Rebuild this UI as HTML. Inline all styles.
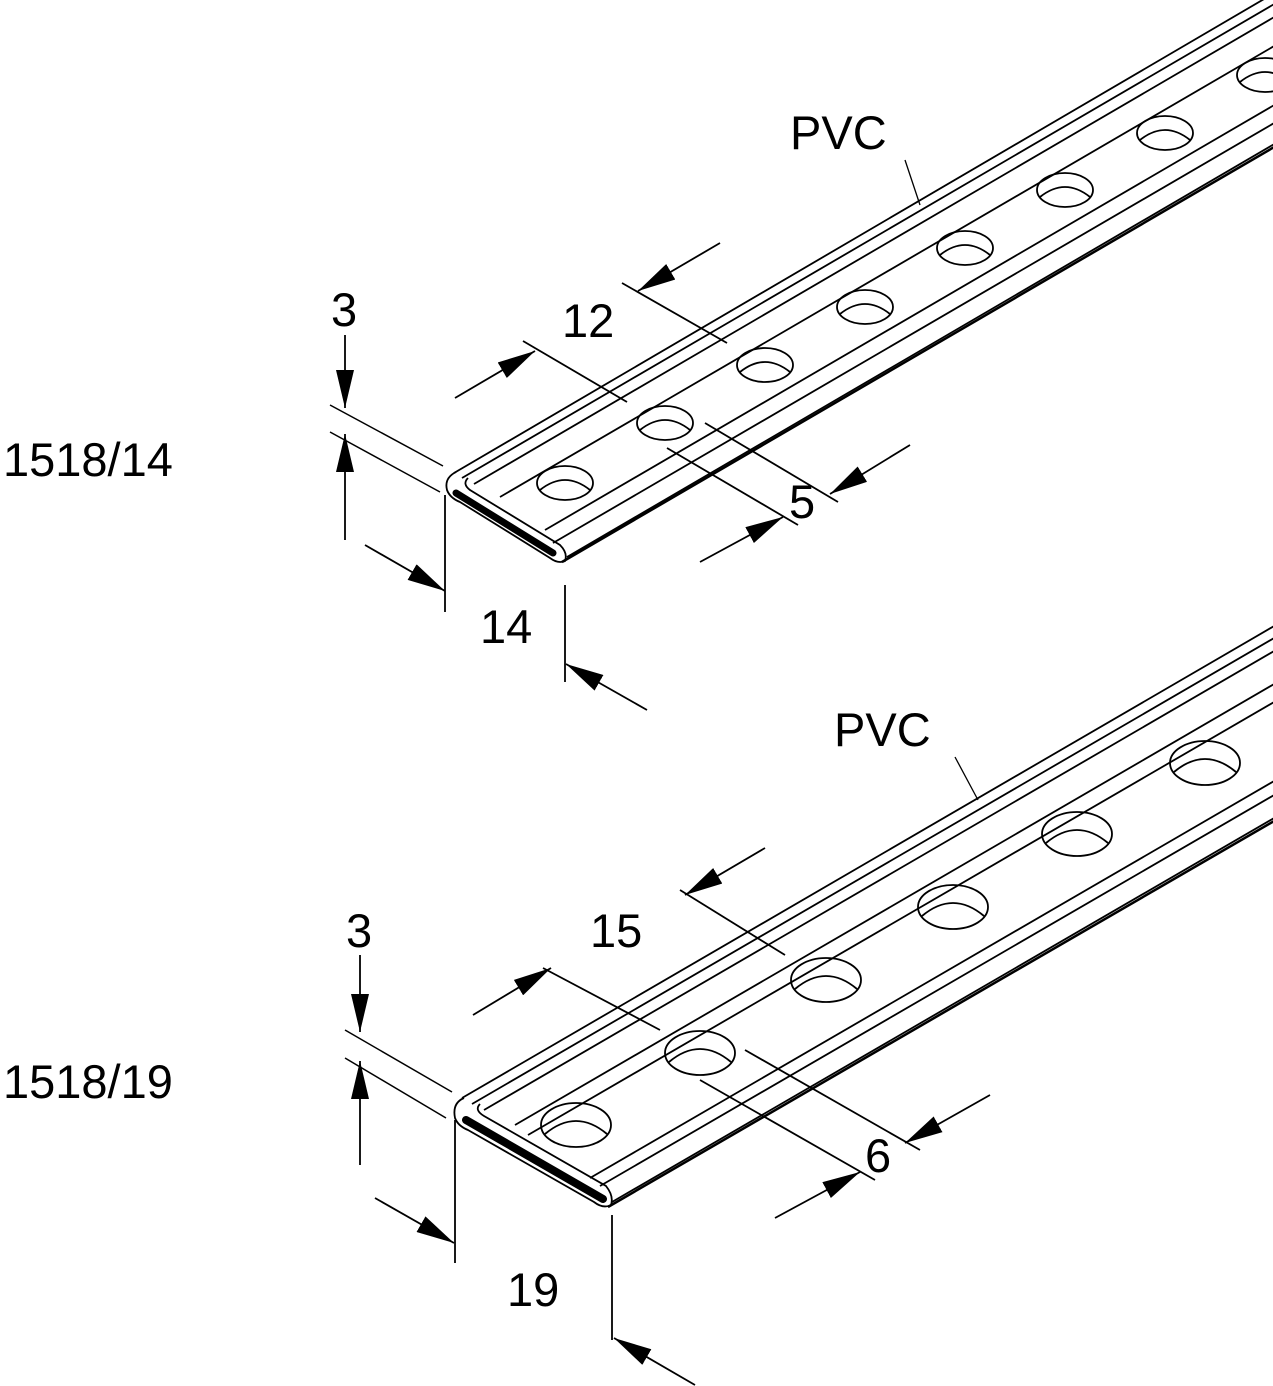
<!DOCTYPE html>
<html><head><meta charset="utf-8"><style>
html,body{margin:0;padding:0;background:#fff;}
svg{display:block;}
text{font-family:"Liberation Sans",sans-serif;fill:#000;}
</style></head><body>
<svg width="1273" height="1386" viewBox="0 0 1273 1386" xmlns="http://www.w3.org/2000/svg">
<defs>
<marker id="ah" viewBox="0 0 38 18" refX="38" refY="9" markerWidth="38" markerHeight="18" markerUnits="userSpaceOnUse" orient="auto">
<path d="M0,0 L38,9 L0,18 Z" fill="#000"/>
</marker>
</defs>
<g stroke="#000" fill="none" stroke-width="1.8">
<!-- Rail 1 -->
<line x1="454" y1="473" x2="1300" y2="-22"/>
<line x1="462" y1="478" x2="1300" y2="-11"/>
<line x1="474" y1="484" x2="1300" y2="2"/>
<line x1="500" y1="497" x2="1300" y2="31"/>
<line x1="545" y1="530" x2="1300" y2="90"/>
<line x1="553" y1="543" x2="1300" y2="108"/>
<line x1="562" y1="562" x2="1300" y2="132" stroke-width="2.5"/>
<line x1="567" y1="557" x2="1300" y2="129"/>
<path d="M456,472 Q444,478 447,490 Q450,498 460,502 L550,558 Q558,564 565,561 Q568,553 560,545 L470,490 Q462,484 468,478" />
<line x1="456" y1="493" x2="553" y2="553" stroke-width="7" stroke-linecap="round"/>
<g>
<ellipse cx="565" cy="483" rx="28" ry="17"/><path d="M540,490 Q565,470 590,490"/>
<ellipse cx="665" cy="423" rx="28" ry="17"/><path d="M640,430 Q665,410 690,430"/>
<ellipse cx="765" cy="365" rx="28" ry="17"/><path d="M740,372 Q765,352 790,372"/>
<ellipse cx="865" cy="307" rx="28" ry="17"/><path d="M840,314 Q865,294 890,314"/>
<ellipse cx="965" cy="248" rx="28" ry="17"/><path d="M940,255 Q965,235 990,255"/>
<ellipse cx="1065" cy="190" rx="28" ry="17"/><path d="M1040,197 Q1065,177 1090,197"/>
<ellipse cx="1165" cy="133" rx="28" ry="17"/><path d="M1140,140 Q1165,120 1190,140"/>
<ellipse cx="1265" cy="75" rx="28" ry="17"/><path d="M1240,82 Q1265,62 1290,82"/>
</g>
<!-- dims rail1 -->
<line x1="330" y1="405" x2="443" y2="466" stroke-width="1.5"/>
<line x1="330" y1="432" x2="440" y2="492" stroke-width="1.5"/>
<line x1="345" y1="335" x2="345" y2="408" marker-end="url(#ah)"/>
<line x1="345" y1="540" x2="345" y2="434" marker-end="url(#ah)"/>
<line x1="445" y1="495" x2="445" y2="612"/>
<line x1="565" y1="585" x2="565" y2="682"/>
<line x1="365" y1="545" x2="445" y2="591" marker-end="url(#ah)"/>
<line x1="647" y1="710" x2="566" y2="664" marker-end="url(#ah)"/>
<line x1="523" y1="341" x2="627" y2="402"/>
<line x1="622" y1="283" x2="727" y2="343"/>
<line x1="455" y1="398" x2="535" y2="351" marker-end="url(#ah)"/>
<line x1="720" y1="243" x2="638" y2="291" marker-end="url(#ah)"/>
<line x1="667" y1="448" x2="798" y2="525"/>
<line x1="705" y1="423" x2="838" y2="502"/>
<line x1="700" y1="562" x2="783" y2="517" marker-end="url(#ah)"/>
<line x1="910" y1="445" x2="830" y2="494" marker-end="url(#ah)"/>
<line x1="905" y1="160" x2="920" y2="205" stroke-width="1.3"/>

<!-- Rail 2 -->
<line x1="462" y1="1098" x2="1300" y2="611"/>
<line x1="472" y1="1104" x2="1300" y2="623"/>
<line x1="484" y1="1110" x2="1300" y2="636"/>
<line x1="515" y1="1125" x2="1300" y2="669"/>
<line x1="528" y1="1135" x2="1300" y2="687"/>
<line x1="590" y1="1178" x2="1300" y2="766"/>
<line x1="600" y1="1186" x2="1300" y2="780"/>
<line x1="608" y1="1207" x2="1300" y2="806" stroke-width="2.5"/>
<line x1="612" y1="1202" x2="1300" y2="803"/>
<path d="M464,1098 Q452,1103 455,1118 Q458,1126 468,1130 L594,1202 Q603,1209 611,1205 Q614,1196 606,1186 L484,1116 Q474,1110 480,1104"/>
<line x1="466" y1="1120" x2="603" y2="1199" stroke-width="8" stroke-linecap="round"/>
<g>
<ellipse cx="576" cy="1125" rx="35" ry="22"/><path d="M545,1134 Q576,1108 607,1134"/>
<ellipse cx="700" cy="1053" rx="35" ry="22"/><path d="M669,1062 Q700,1036 731,1062"/>
<ellipse cx="826" cy="980" rx="35" ry="22"/><path d="M795,989 Q826,963 857,989"/>
<ellipse cx="953" cy="907" rx="35" ry="22"/><path d="M922,916 Q953,890 984,916"/>
<ellipse cx="1077" cy="834" rx="35" ry="22"/><path d="M1046,843 Q1077,817 1108,843"/>
<ellipse cx="1205" cy="763" rx="35" ry="22"/><path d="M1174,772 Q1205,746 1236,772"/>
</g>
<!-- dims rail2 -->
<line x1="345" y1="1030" x2="452" y2="1092" stroke-width="1.5"/>
<line x1="345" y1="1058" x2="446" y2="1118" stroke-width="1.5"/>
<line x1="360" y1="955" x2="360" y2="1032" marker-end="url(#ah)"/>
<line x1="360" y1="1165" x2="360" y2="1061" marker-end="url(#ah)"/>
<line x1="455" y1="1120" x2="455" y2="1263"/>
<line x1="612" y1="1215" x2="612" y2="1340"/>
<line x1="375" y1="1198" x2="454" y2="1243" marker-end="url(#ah)"/>
<line x1="695" y1="1385" x2="614" y2="1338" marker-end="url(#ah)"/>
<line x1="543" y1="968" x2="660" y2="1030"/>
<line x1="680" y1="890" x2="785" y2="955"/>
<line x1="473" y1="1015" x2="551" y2="968" marker-end="url(#ah)"/>
<line x1="765" y1="848" x2="685" y2="895" marker-end="url(#ah)"/>
<line x1="700" y1="1080" x2="875" y2="1180"/>
<line x1="745" y1="1050" x2="920" y2="1150"/>
<line x1="775" y1="1218" x2="860" y2="1172" marker-end="url(#ah)"/>
<line x1="990" y1="1095" x2="905" y2="1143" marker-end="url(#ah)"/>
<line x1="955" y1="757" x2="978" y2="800" stroke-width="1.3"/>
</g>
<g font-size="47">
<text x="331" y="326">3</text>
<text x="3" y="476">1518/14</text>
<text x="562" y="337">12</text>
<text x="789" y="518">5</text>
<text x="480" y="643">14</text>
<text x="790" y="149">PVC</text>
<text x="346" y="947">3</text>
<text x="3" y="1098">1518/19</text>
<text x="590" y="947">15</text>
<text x="865" y="1172">6</text>
<text x="507" y="1306">19</text>
<text x="834" y="746">PVC</text>
</g>
</svg>
</body></html>
